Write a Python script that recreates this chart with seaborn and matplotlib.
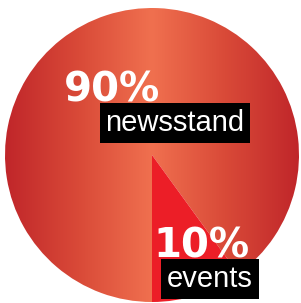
import numpy as np
import matplotlib.pyplot as plt
import seaborn as sns
from matplotlib.colors import LinearSegmentedColormap

# data
labels = ["events", "newsstand"]
shares = [10, 90]
pct_labels = ["10%", "90%"]

# colours
events_color = "#ec1e27"
gradient_colors = ["#c0262a", "#d94a38", "#f0704f", "#d94a38", "#c0262a"]

sns.set_theme(style="white")
plt.rcParams["font.family"] = ["Liberation Sans", "DejaVu Sans"]

fig = plt.figure(figsize=(3.01, 3.03), dpi=100)
ax = fig.add_axes([0, 0, 1, 1])

cx, cy, r = 152, 148, 147

wedges, _ = ax.pie(
    shares,
    startangle=-90,
    counterclock=True,
    colors=[events_color, "none"],
    center=(cx, cy),
    radius=r,
    wedgeprops=dict(linewidth=0),
)

# horizontal gradient for the newsstand slice
cmap = LinearSegmentedColormap.from_list("news", gradient_colors)
grad = np.linspace(0, 1, 512).reshape(1, -1)
img = ax.imshow(
    grad,
    cmap=cmap,
    extent=(cx - r, cx + r, cy - r, cy + r),
    aspect="auto",
    interpolation="bicubic",
    zorder=0,
)
img.set_clip_path(wedges[1])

ax.set_xlim(0, 301)
ax.set_ylim(0, 303)
ax.set_aspect("equal")
ax.axis("off")

big = dict(color="white", fontsize=29, fontweight="bold",
           family=["DejaVu Sans"], ha="left", va="baseline", zorder=5)
small = dict(color="white", fontsize=21, ha="center", va="center", zorder=5,
             bbox=dict(boxstyle="square,pad=0.2", facecolor="black",
                       edgecolor="none"))

ax.text(64, 202, pct_labels[1], **big)
ax.text(175, 180, labels[1], **small)
ax.text(153, 45, pct_labels[0], **big)
ax.text(210, 24, labels[0], **small)

plt.savefig("out.png", dpi=100)
plt.close()
